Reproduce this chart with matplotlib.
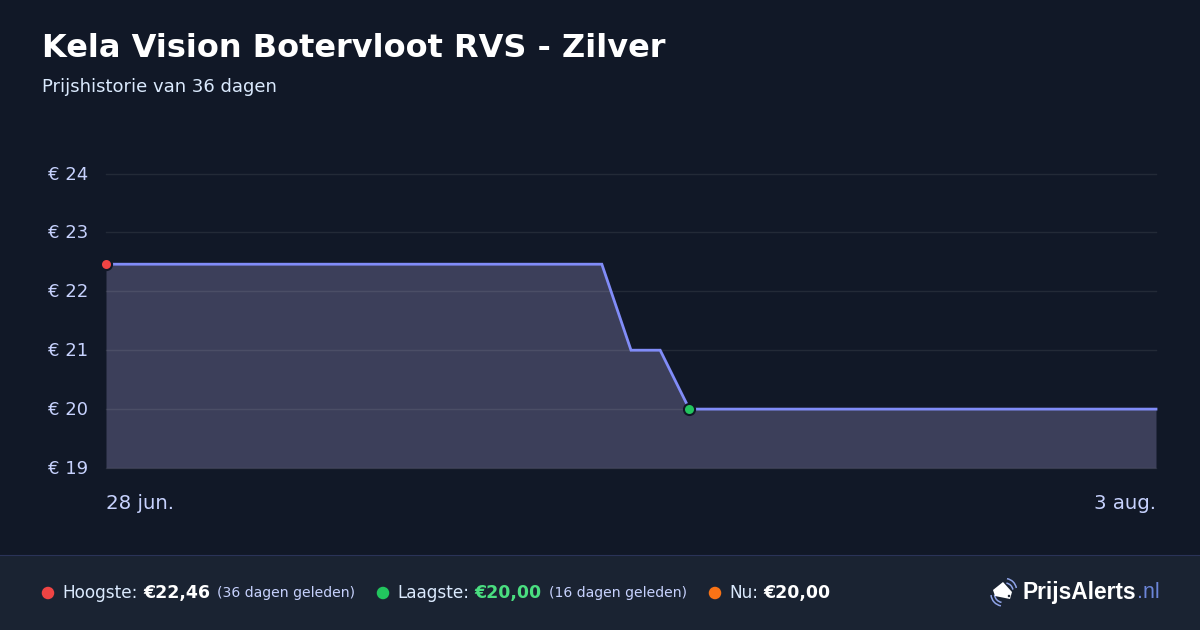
# coding: utf-8
import matplotlib
matplotlib.use('Agg')
import matplotlib.pyplot as plt
import matplotlib.patches as patches
from matplotlib.transforms import ScaledTranslation

# prijsdata
days = [0, 17, 18, 19, 20, 36]
prices = [22.46, 22.46, 21, 21, 20, 20]
y_ticks = [19, 20, 21, 22, 23, 24]
x_labels = ['28 jun.', '3 aug.']
high_point = (0, 22.46)
low_point = (20, 20)

BG = '#111827'
FOOT = '#1a2332'
LINE = '#818cf8'
FILL = '#3c3f5a'
LABEL = '#c7d2fe'

plt.rcParams['font.family'] = ['DejaVu Sans']

fig = plt.figure(figsize=(12, 6.3), dpi=100, facecolor=BG)

# laag in pixels voor tekst en footer
bg = fig.add_axes([0, 0, 1, 1], zorder=0)
bg.set_xlim(0, 1200)
bg.set_ylim(630, 0)
bg.axis('off')

bg.add_patch(patches.Rectangle((0, 555), 1200, 75, fc=FOOT, ec='none'))
bg.plot([0, 1200], [554.5, 554.5], color='#2a3358', lw=0.8)

bg.text(42, 48.5, 'Kela Vision Botervloot RVS - Zilver', fontsize=23, fontweight='bold',
        color='white', va='center', ha='left')
bg.text(42, 87, 'Prijshistorie van 36 dagen', fontsize=13, color='#dbeafe', va='center', ha='left')

# grafiek
left, right, top, bottom = 106, 1156, 173.5, 468
ax = fig.add_axes([left / 1200, 1 - bottom / 630, (right - left) / 1200, (bottom - top) / 630], zorder=1)
ax.patch.set_alpha(0)
ax.set_xlim(days[0], days[-1])
ax.set_ylim(y_ticks[0], y_ticks[-1])
for s in ax.spines.values():
    s.set_visible(False)
ax.set_yticks(y_ticks)
ax.set_yticklabels(['€ %d' % t for t in y_ticks], fontsize=13, color=LABEL)
ax.tick_params(axis='y', length=0, pad=0)
for lab in ax.get_yticklabels():
    lab.set_ha('left')
    lab.set_va('center_baseline')
    lab.set_x(-0.0552)
    lab.set_transform(lab.get_transform() + ScaledTranslation(0, 1 / 100, fig.dpi_scale_trans))
ax.set_xticks([])
ax.grid(axis='y', color='#ffffff', alpha=0.08, lw=1, clip_on=False)
ax.set_axisbelow(False)

ax.fill_between(days, prices, y_ticks[0], color=FILL, lw=0, zorder=1)
ax.plot(days, prices, color=LINE, lw=2.0, zorder=3, solid_joinstyle='miter', clip_on=False)
ax.plot(*high_point, 'o', ms=8, mfc='#ef4444', mec=BG, mew=1.5, zorder=4, clip_on=False)
ax.plot(*low_point, 'o', ms=8, mfc='#22c55e', mec=BG, mew=1.5, zorder=4, clip_on=False)

bg.text(left, 503.5, x_labels[0], fontsize=14.2, color=LABEL, va='center', ha='left')
bg.text(right, 503.5, x_labels[1], fontsize=14.2, color=LABEL, va='center', ha='right')

# footer legenda
fy = 593
for x, c in [(48, '#ef4444'), (383, '#22c55e'), (715, '#f97316')]:
    bg.add_patch(patches.Ellipse((x, fy), 12.5, 12.5, fc=c, ec='none'))

bg.text(62, fy, 'Hoogste:', fontsize=12.15, color='#dbeafe', va='center')
bg.text(143, fy, '€22,46', fontsize=12.5, color='white', fontweight='bold', va='center')
bg.text(217, fy, '(36 dagen geleden)', fontsize=10.05, color=LABEL, va='center')
bg.text(397, fy, 'Laagste:', fontsize=12.15, color='#dbeafe', va='center')
bg.text(474, fy, '€20,00', fontsize=12.5, color='#4ade80', fontweight='bold', va='center')
bg.text(549, fy, '(16 dagen geleden)', fontsize=10.05, color=LABEL, va='center')
bg.text(729, fy, 'Nu:', fontsize=12.15, color='#dbeafe', va='center')
bg.text(763, fy, '€20,00', fontsize=12.5, color='white', fontweight='bold', va='center')

# logo
bg.add_patch(patches.Polygon([(1003, 582), (1012, 592), (1010, 599), (995, 596), (993, 590)],
                             fc='white', ec='none', zorder=3))
bg.add_patch(patches.Ellipse((1009, 596), 2.5, 2.5, fc=FOOT, ec='none', zorder=4))
bg.add_patch(patches.Arc((1005, 590), 23, 23, theta1=-80, theta2=-10, color='#8fa3e8', lw=1.1))
bg.add_patch(patches.Arc((1005, 591), 16, 16, theta1=-80, theta2=-10, color='#8fa3e8', lw=1.1))
bg.add_patch(patches.Arc((1003, 594), 24, 24, theta1=100, theta2=175, color='#8fa3e8', lw=1.1))
bg.add_patch(patches.Arc((1003, 594), 17, 17, theta1=100, theta2=175, color='#8fa3e8', lw=1.1))
bg.text(1022, 593, 'PrijsAlerts', fontsize=16.4, fontweight='bold', family='Liberation Sans', color='white', va='center')
bg.text(1137, 593, '.nl', fontsize=15.5, family='Liberation Sans', color='#6b85d8', va='center')

fig.savefig('out.png', dpi=100, facecolor=BG)
